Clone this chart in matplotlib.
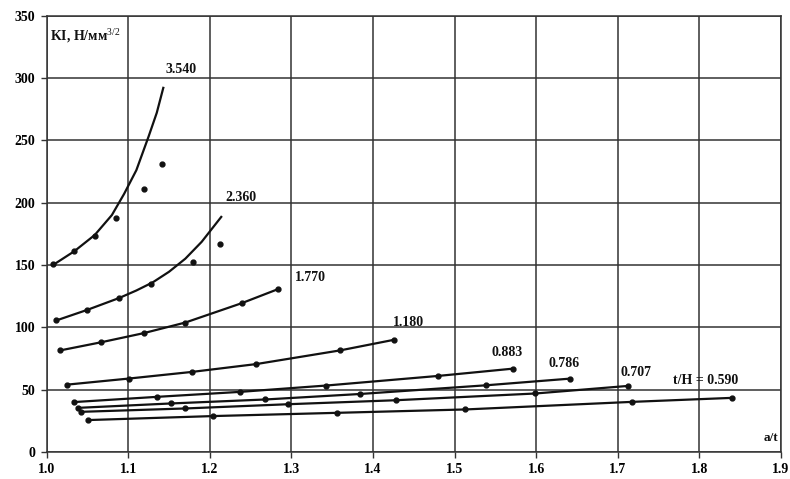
import matplotlib
matplotlib.use("Agg")
import matplotlib.pyplot as plt

plt.rcParams["font.family"] = ["Liberation Serif", "DejaVu Serif"]
plt.rcParams["mathtext.fontset"] = "custom"
plt.rcParams["mathtext.rm"] = "Liberation Serif"

# t/H = 3.540
m354_x = [1.008, 1.034, 1.059, 1.085, 1.119, 1.142]
m354_y = [150.5, 161, 173.5, 187.5, 211, 231]
t354_x = [1.008, 1.034, 1.059, 1.080, 1.095, 1.110, 1.125, 1.135, 1.143]
t354_y = [150, 161, 174, 190, 207, 226, 253, 272, 292]

# t/H = 2.360
m236_x = [1.012, 1.050, 1.089, 1.128, 1.179, 1.213]
m236_y = [106, 114, 123.5, 134.5, 152, 167]
t236_x = [1.012, 1.050, 1.089, 1.110, 1.130, 1.150, 1.170, 1.190, 1.214]
t236_y = [105.5, 114, 123.5, 129.5, 136, 144.5, 155, 168.5, 188.5]

# t/H = 1.770
m177_x = [1.017, 1.067, 1.119, 1.170, 1.239, 1.284]
m177_y = [81.5, 88, 95.3, 103.8, 119.3, 130.7]

# t/H = 1.180
m118_x = [1.025, 1.101, 1.178, 1.257, 1.360, 1.426]
m118_y = [54, 58.9, 64.2, 70.5, 81.5, 90]

# t/H = 0.883
m0883_x = [1.033, 1.135, 1.237, 1.343, 1.480, 1.571]
m0883_y = [40, 44.2, 48.2, 53.3, 61, 66.8]

# t/H = 0.786
m0786_x = [1.039, 1.152, 1.268, 1.384, 1.539, 1.641]
m0786_y = [35.4, 38.9, 42.1, 46.5, 53.5, 58.8]

# t/H = 0.707
m0707_x = [1.042, 1.170, 1.296, 1.428, 1.599, 1.713]
m0707_y = [32.2, 34.9, 38.3, 41.5, 46.9, 53]

# t/H = 0.590
m0590_x = [1.051, 1.204, 1.356, 1.513, 1.718, 1.840]
m0590_y = [25.6, 28.8, 31.4, 34.1, 40.2, 43.4]

labels = ["3.540", "2.360", "1.770", "1.180", "0.883", "0.786", "0.707", "t/H = 0.590"]
label_x = [1.146, 1.219, 1.304, 1.424, 1.545, 1.615, 1.703, 1.768]
label_y = [307, 204, 140, 104, 80, 71, 64, 57.5]

x_ticks = [1.0, 1.1, 1.2, 1.3, 1.4, 1.5, 1.6, 1.7, 1.8, 1.9]
y_ticks = [0, 50, 100, 150, 200, 250, 300, 350]

fig = plt.figure(figsize=(7.9, 4.79), dpi=100)
ax = fig.add_axes([0.059, 0.0564, 0.9296, 0.9112])

lc = "#111111"
lw = 1.6

# curves with separate trend line
for mx, my, tx, ty in [(m354_x, m354_y, t354_x, t354_y),
                       (m236_x, m236_y, t236_x, t236_y)]:
    ax.plot(tx, ty, color=lc, lw=lw, zorder=3)
    ax.plot(mx, my, "o", color=lc, ms=3.5, zorder=4)

# curves drawn through the points
for mx, my in [(m177_x, m177_y), (m118_x, m118_y), (m0883_x, m0883_y),
               (m0786_x, m0786_y), (m0707_x, m0707_y), (m0590_x, m0590_y)]:
    ax.plot(mx, my, color=lc, lw=lw, marker="o", ms=3.5, zorder=3)

for s, lx, ly in zip(labels, label_x, label_y):
    ax.text(lx, ly, s, fontsize=10, fontweight="bold", color=lc,
            ha="left", va="center")

ax.text(1.004, 334, "KI, Н/мм$^{3/2}$", fontsize=10, fontweight="bold",
        color=lc, ha="left", va="center")
ax.text(1.897, 11, "a/t", fontsize=9.5, fontweight="bold", color=lc,
        ha="right", va="center")

ax.set_xlim(1.0, 1.9)
ax.set_ylim(0, 350)
ax.set_xticks(x_ticks)
ax.set_yticks(y_ticks)
ax.set_xticklabels([f"{v:.1f}" for v in x_ticks])
ax.set_yticklabels([str(v) for v in y_ticks])
ax.grid(True, color="#333333", lw=1.1)
ax.set_axisbelow(True)
for sp in ax.spines.values():
    sp.set_color("#333333")
    sp.set_linewidth(1.1)
ax.tick_params(direction="out", length=4, width=1, color="#333333",
               labelsize=10, pad=4)
for t in ax.get_xticklabels() + ax.get_yticklabels():
    t.set_fontweight("bold")

fig.savefig("out.png", dpi=100)
